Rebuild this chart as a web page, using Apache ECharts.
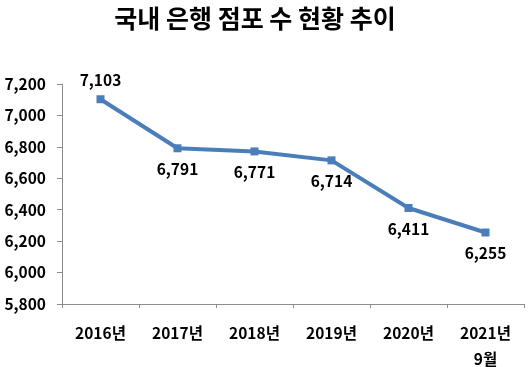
<!DOCTYPE html>
<html><head><meta charset="utf-8">
<script src="https://cdn.jsdelivr.net/npm/echarts@6/dist/echarts.min.js"></script>
<style>html,body{margin:0;padding:0;background:#fff}#c{width:530px;height:367px}</style>
</head><body><div id="c"></div>
<script>
const title = '국내 은행 점포 수 현황 추이';
const categories = ['2016년', '2017년', '2018년', '2019년', '2020년', '2021년\n9월'];
const branches = [7103, 6791, 6771, 6714, 6411, 6255];
const yMin = 5800, yMax = 7200, yStep = 200;
const font = '"Noto Sans CJK KR", "Noto Sans", sans-serif';
const chart = echarts.init(document.getElementById('c'));
chart.setOption({
  animation: false,
  title: { text: title, left: 250, top: 1, textAlign: 'center',
    textStyle: { fontFamily: font, fontSize: 25, fontWeight: 'bold', color: '#000' } },
  grid: { left: 62, right: 6, top: 84, bottom: 63, containLabel: false, outerBoundsMode: 'none' },
  xAxis: { type: 'category', data: categories, boundaryGap: true,
    axisLine: { lineStyle: { color: '#8c8c8c', width: 1 } },
    axisTick: { show: true, length: 4, alignWithLabel: false, lineStyle: { color: '#8c8c8c' } },
    axisLabel: { margin: 16, fontFamily: font, fontSize: 15.5, fontWeight: 'bold', color: '#000', lineHeight: 26, interval: 0 } },
  yAxis: { type: 'value', min: yMin, max: yMax, interval: yStep,
    splitLine: { show: false },
    axisLine: { show: true, lineStyle: { color: '#8c8c8c', width: 1 } },
    axisTick: { show: true, length: 5, lineStyle: { color: '#8c8c8c' } },
    axisLabel: { margin: 16, fontFamily: font, fontSize: 15.5, fontWeight: 'bold', color: '#000',
      formatter: v => v.toLocaleString('en-US') } },
  series: [{ type: 'line', data: branches.map((v, i) => ({ value: v,
      label: { position: i === 0 ? 'top' : 'bottom', distance: i === 0 ? 7 : 9 } })),
    symbol: 'rect', symbolSize: 8, lineStyle: { color: '#4a7ebb', width: 4 },
    itemStyle: { color: '#4a7ebb' },
    label: { show: true, fontFamily: font, fontSize: 15.5, fontWeight: 'bold', color: '#000',
      formatter: p => p.value.toLocaleString('en-US') } }]
});
</script></body></html>
